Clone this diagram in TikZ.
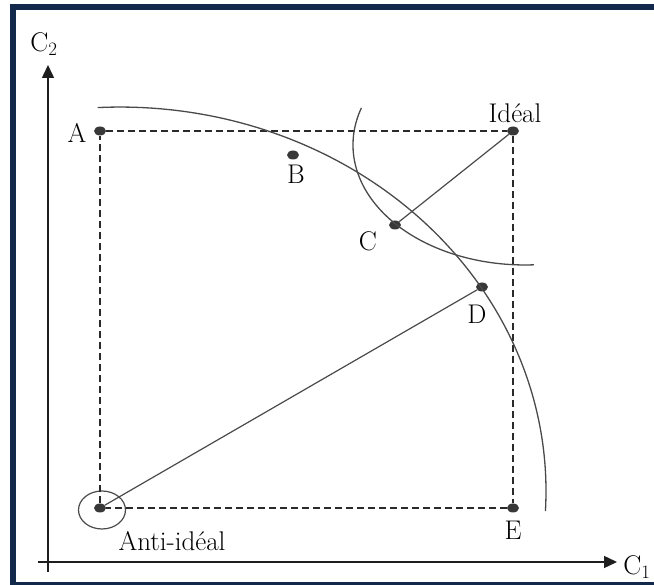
\documentclass[tikz,border=0pt]{standalone}
\usetikzlibrary{arrows.meta, shapes.geometric}
\definecolor{framecol}{HTML}{13294B}
\definecolor{axiscol}{HTML}{1E1E1E}
\definecolor{linecol}{HTML}{4A4A4A}
\definecolor{guidecol}{HTML}{2A2A2A}
\definecolor{dotcol}{HTML}{383838}
\tikzset{
  pnt/.style={ellipse, fill=dotcol, inner sep=0pt, minimum width=12pt, minimum height=9pt},
  ring/.style={ellipse, draw=linecol, line width=1.2pt, inner sep=0pt,
    minimum width=47pt, minimum height=38pt},
  lab/.style={inner sep=0pt, font=\fontsize{27}{32}\selectfont, text=black},
  axis/.style={-{Triangle[length=13pt,width=12pt]}, line width=1.4pt, axiscol},
  guide/.style={line width=1.3pt, guidecol, dash pattern=on 7pt off 4pt},
  link/.style={line width=1.2pt, linecol},
  curve/.style={line width=1.3pt, linecol},
}

\begin{document}
\begin{tikzpicture}[x=1pt, y=1pt]

\clip (0,0) rectangle (654,585);
\fill[white] (0,0) rectangle (654,585);

% -- frame -------------------------------------------------------
\draw[framecol, line width=6pt] (13,578) rectangle (657,0);

% -- criteria axes -----------------------------------------------
\coordinate (ybot) at (48,13);
\coordinate (ytop) at (48,520);
\coordinate (xbeg) at (38,23);
\coordinate (xend) at (617,23);
\draw[axis] (ybot) -- (ytop);
\draw[axis] (xbeg) -- (xend);
\node[lab] (labC2) at (44,541) {C\textsubscript{2}};
\node[lab] (labC1) at (637,18) {C\textsubscript{1}};

% -- alternatives ------------------------------------------------
\node[pnt] (A)     at (100,454) {};
\node[pnt] (ideal) at (513,454) {};
\node[pnt] (B)     at (293,430) {};
\node[pnt] (C)     at (395,360) {};
\node[pnt] (D)     at (482,298) {};
\node[pnt] (E)     at (513,77) {};
\node[pnt] (anti)  at (100,77) {};
\node[ring] (antiring) at (102,75) {};

\node[lab] (labA)     at (77,452)  {A};
\node[lab] (labB)     at (296,411) {B};
\node[lab] (labC)     at (368,344) {C};
\node[lab] (labD)     at (477,271) {D};
\node[lab] (labE)     at (513,55)  {E};
\node[lab] (labIdeal) at (515,472) {Idéal};
\node[lab] (labAnti)  at (172,44)  {Anti-idéal};

% -- dashed box --------------------------------------------------
\draw[guide] (A) -- (ideal);
\draw[guide] (ideal) -- (E);
\draw[guide] (E) -- (anti);
\draw[guide] (anti) -- (A);

% -- distances ---------------------------------------------------
\draw[link] (ideal) -- (C);
\draw[link] (anti) -- (D);

% -- iso-distance arcs -------------------------------------------
\draw[curve] (97.7,477.4) arc[start angle=93, end angle=-3, x radius=426pt, y radius=384pt];
\draw[curve] (361.4,477.1) arc[start angle=162, end angle=273, x radius=172pt, y radius=120pt];

\end{tikzpicture}
\end{document}
